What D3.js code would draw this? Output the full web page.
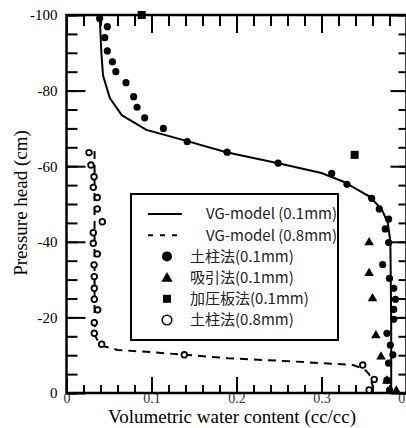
<!DOCTYPE html>
<html>
<head>
<meta charset="utf-8">
<script src="https://cdn.jsdelivr.net/npm/d3@7"></script>
<style>
body { margin: 0; background: #fff; }
svg { display: block; }
</style>
</head>
<body>
<div id="chart"></div>
<script>
// series, [theta, head]
var vgFine = [[0.039,-100],[0.041,-90],[0.043,-84],[0.051,-78],[0.065,-73.5],[0.094,-69.6],[0.141,-66.7],
  [0.188,-63.7],[0.249,-60.8],[0.30,-58.2],[0.326,-55.9],[0.357,-51.9],[0.371,-48.5],[0.378,-45],
  [0.381,-40],[0.382,-20],[0.382,0]];
var vgCoarse = [[0.033,-64],[0.033,-40],[0.033,-20],[0.034,-15],[0.040,-12.6],[0.06,-11.4],[0.10,-10.8],
  [0.14,-10.1],[0.19,-9.2],[0.27,-8.3],[0.337,-7.4],[0.350,-6.4],[0.356,-5],[0.360,-2],[0.361,0]];
var columnFine = [[0.039,-99.1],[0.048,-96.9],[0.045,-94],[0.048,-90.5],[0.054,-87.6],[0.058,-85],
  [0.070,-82.1],[0.079,-78.4],[0.083,-75.6],[0.092,-72.8],[0.114,-70],[0.142,-66.5],[0.189,-63.7],
  [0.249,-60.8],[0.312,-58.1],[0.330,-55.2],[0.359,-51.5],[0.368,-48.7],[0.379,-46],[0.375,-43.4],
  [0.379,-39.8],[0.372,-34],[0.380,-30.3],[0.385,-27.7],[0.387,-24.8],[0.385,-22.1],[0.385,-19.5],
  [0.377,-15.8],[0.381,-12.7],[0.384,-10.1],[0.379,-7.9],[0.377,-3.4],[0.380,-0.8]];
var suction = [[0.356,-39.8],[0.356,-31.7],[0.360,-25],[0.364,-15.2],[0.370,-9.6],[0.377,-3.2],[0.388,-0.6]];
var pressurePlate = [[0.0885,-100],[0.339,-63]];
var columnCoarse = [[0.0265,-63.6],[0.0288,-60.3],[0.0324,-57.2],[0.0315,-54.4],[0.0362,-51.7],[0.0362,-48.7],
  [0.0421,-45.3],[0.0315,-42.4],[0.0315,-39.6],[0.0362,-36.8],[0.0324,-33.9],[0.0327,-30.8],[0.0327,-27.7],
  [0.0327,-24.8],[0.0367,-22],[0.0327,-18.6],[0.0327,-15.8],[0.0414,-12.9],[0.1386,-10.1],[0.3485,-7.4],
  [0.362,-3.6],[0.356,-0.8]];

var xMajor = [0, 0.1, 0.2, 0.3, 0.4];
var xMinor = d3.range(0, 0.401, 0.02);
var yMajor = [-100, -80, -60, -40, -20, 0];
var yMinor = d3.range(-100, 0.1, 5);

var legendItems = ["VG-model (0.1mm)", "VG-model (0.8mm)", "土柱法(0.1mm)", "吸引法(0.1mm)", "加圧板法(0.1mm)", "土柱法(0.8mm)"];

var W = 406, H = 428;
var L = 66.5, R = 406.5, T = 15, B = 393;

var x = d3.scaleLinear().domain([0, 0.4]).range([L, R]);
var y = d3.scaleLinear().domain([-100, 0]).range([T, B]);

var svg = d3.select("#chart").append("svg")
  .attr("width", W).attr("height", H)
  .style("font-family", "'Liberation Serif', 'Times New Roman', serif");

function ticks(axis, tx, ty) {
  var g = svg.append("g").attr("transform", `translate(${tx},${ty})`).call(axis);
  g.select(".domain").remove();
  g.selectAll("line").attr("stroke", "#000").attr("stroke-width", 2);
  return g;
}

// minor ticks
ticks(d3.axisBottom(x).tickValues(xMinor).tickSize(-8).tickFormat(""), 0, B);
ticks(d3.axisTop(x).tickValues(xMinor).tickSize(-11).tickFormat(""), 0, T);
ticks(d3.axisLeft(y).tickValues(yMinor).tickSize(-11).tickFormat(""), L, 0);
ticks(d3.axisRight(y).tickValues(yMinor).tickSize(-8).tickFormat(""), R, 0);

// major ticks
var xb = ticks(d3.axisBottom(x).tickValues(xMajor).tickSize(-16).tickPadding(0)
  .tickFormat(d => d === 0 ? "0" : d3.format(".1f")(d)), 0, B);
xb.selectAll("text").attr("font-size", 14).attr("font-family", "'Liberation Serif', serif").attr("fill", "#333");
ticks(d3.axisTop(x).tickValues(xMajor).tickSize(-18).tickFormat(""), 0, T);
var yl = ticks(d3.axisLeft(y).tickValues(yMajor).tickSize(-19).tickPadding(9).tickFormat(d => d), L, 0);
yl.selectAll("text").attr("font-size", 15).attr("font-family", "'Liberation Serif', serif").attr("fill", "#000");
ticks(d3.axisRight(y).tickValues(yMajor).tickSize(-16).tickFormat(""), R, 0);

// frame
svg.append("rect").attr("x", L).attr("y", T).attr("width", R - L).attr("height", B - T)
  .attr("fill", "none").attr("stroke", "#000").attr("stroke-width", 2.5);

var line = d3.line().x(d => x(d[0])).y(d => y(d[1]));

svg.append("path").datum(vgFine).attr("d", line)
  .attr("fill", "none").attr("stroke", "#000").attr("stroke-width", 2);
svg.append("path").datum(vgCoarse).attr("d", line)
  .attr("fill", "none").attr("stroke", "#000").attr("stroke-width", 2).attr("stroke-dasharray", "8,6");

var tri = d3.symbol().type(d3.symbolTriangle).size(40);
var sq = d3.symbol().type(d3.symbolSquare).size(64);

svg.append("g").selectAll("circle").data(columnFine).join("circle")
  .attr("cx", d => x(d[0])).attr("cy", d => y(d[1])).attr("r", 3.6).attr("fill", "#000");
svg.append("g").selectAll("path").data(suction).join("path")
  .attr("d", tri).attr("transform", d => `translate(${x(d[0])},${y(d[1])})`).attr("fill", "#000");
svg.append("g").selectAll("path").data(pressurePlate).join("path")
  .attr("d", sq).attr("transform", d => `translate(${x(d[0])},${y(d[1])})`).attr("fill", "#000");
svg.append("g").selectAll("circle").data(columnCoarse).join("circle")
  .attr("cx", d => x(d[0])).attr("cy", d => y(d[1])).attr("r", 2.8)
  .attr("fill", "#fff").attr("stroke", "#000").attr("stroke-width", 1.8);

// legend
var lg = svg.append("g").attr("transform", "translate(131,194)");
lg.append("rect").attr("width", 207).attr("height", 146)
  .attr("fill", "#fff").attr("stroke", "#000").attr("stroke-width", 2);
var rowY = i => 20 + i * 21.2;
lg.append("line").attr("x1", 17).attr("x2", 51).attr("y1", rowY(0)).attr("y2", rowY(0))
  .attr("stroke", "#000").attr("stroke-width", 2);
lg.append("line").attr("x1", 17).attr("x2", 51).attr("y1", rowY(1)).attr("y2", rowY(1))
  .attr("stroke", "#000").attr("stroke-width", 2).attr("stroke-dasharray", "5,7");
lg.append("circle").attr("cx", 36).attr("cy", rowY(2)).attr("r", 5).attr("fill", "#000");
lg.append("path").attr("d", d3.symbol().type(d3.symbolTriangle).size(55))
  .attr("transform", `translate(36,${rowY(3) + 1})`).attr("fill", "#000");
lg.append("path").attr("d", d3.symbol().type(d3.symbolSquare).size(64))
  .attr("transform", `translate(36,${rowY(4)})`).attr("fill", "#000");
lg.append("circle").attr("cx", 36).attr("cy", rowY(5)).attr("r", 4.8)
  .attr("fill", "#fff").attr("stroke", "#000").attr("stroke-width", 1.6);

lg.selectAll("text").data(legendItems).join("text")
  .attr("x", (d, i) => i < 2 ? 206 : 59)
  .attr("y", (d, i) => rowY(i))
  .attr("dy", "0.36em")
  .attr("text-anchor", (d, i) => i < 2 ? "end" : "start")
  .attr("font-family", "'Noto Sans CJK JP', sans-serif")
  .attr("font-size", 15)
  .attr("fill", "#222")
  .text(d => d);

// axis titles
svg.append("text").attr("x", 232).attr("y", 423).attr("text-anchor", "middle")
  .attr("font-size", 19).text("Volumetric water content (cc/cc)");
svg.append("text").attr("transform", "translate(27,203) rotate(-90)").attr("text-anchor", "middle")
  .attr("font-size", 19).text("Pressure head (cm)");
</script>
</body>
</html>
